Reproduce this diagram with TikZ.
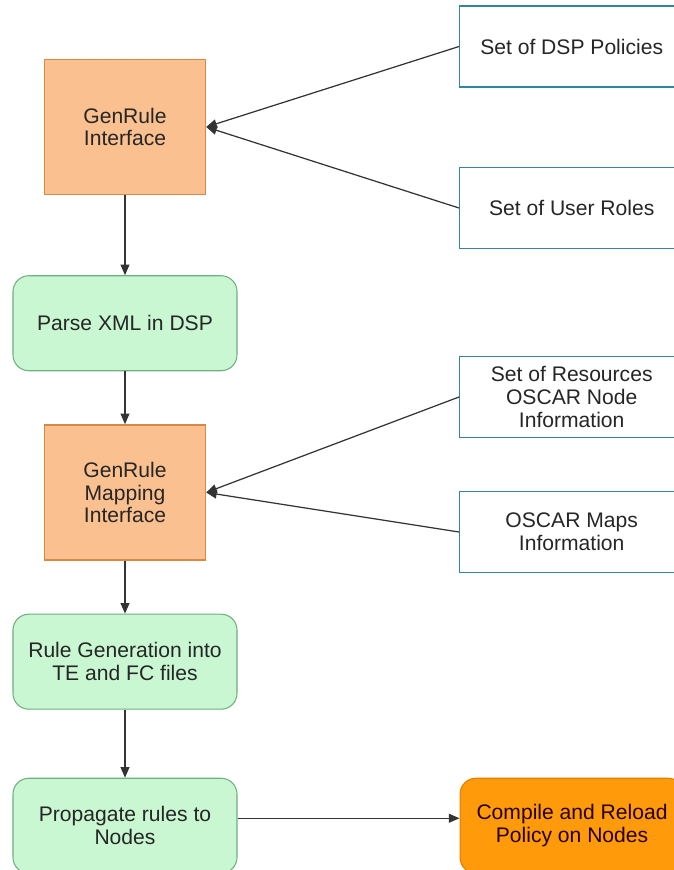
\documentclass[tikz,border=0pt]{standalone}
\usepackage{fontspec}
\setmainfont{Liberation Sans}
\usepackage{xcolor}
\usepackage{tikz}
\usetikzlibrary{shapes.geometric, arrows.meta, positioning, calc}
\definecolor{genorange}{HTML}{FAC08F}
\definecolor{genorangeline}{HTML}{D98847}
\definecolor{stepgreen}{HTML}{C9F7D2}
\definecolor{stepgreenline}{HTML}{6FAF80}
\definecolor{infoteal}{HTML}{31859C}
\definecolor{hotorange}{HTML}{FF9A0A}
\definecolor{hotorangeline}{HTML}{E07F00}
\definecolor{linegray}{HTML}{333333}

\begin{document}
\begin{tikzpicture}[
  node distance=1.06cm and 4.44cm,
  genbox/.style={rectangle, draw=genorangeline, fill=genorange, line width=0.8pt, minimum width=3.22cm, minimum height=2.7cm, align=center, font=\fontsize{12}{13}\selectfont, text=black!85},
  stepbox/.style={rectangle, draw=stepgreenline, fill=stepgreen, line width=0.6pt, rounded corners=9pt, minimum width=4.48cm, minimum height=1.9cm, align=center, font=\fontsize{12}{13}\selectfont, text=black!85},
  infobox/.style={rectangle, draw=infoteal, fill=white, line width=0.8pt, minimum width=4.48cm, minimum height=1.62cm, align=center, anchor=west, font=\fontsize{12}{13}\selectfont, text=black!85},
  hotbox/.style={rectangle, draw=hotorangeline, fill=hotorange, line width=0.6pt, rounded corners=9pt, minimum width=4.48cm, minimum height=1.9cm, align=center, font=\fontsize{12}{13}\selectfont, text=black!75!red!60!black},
  arr/.style={-{Triangle[length=6pt, width=5pt]}, line width=0.7pt, color=linegray},
]
\useasboundingbox (0,0) rectangle (13.48,-17.4);

% Main column
\node[genbox] (genrule) at (2.5,-2.54) {GenRule\\Interface};
\node[stepbox, below=1.6cm of genrule] (parse) {Parse XML in DSP};
\node[genbox, below=of parse] (mapping) {GenRule\\Mapping\\Interface};
\node[stepbox, below=of mapping] (rulegen) {Rule Generation into\\TE and FC files};
\node[stepbox, below=1.36cm of rulegen] (propagate) {Propagate rules to\\Nodes};
\node[hotbox, right=of propagate] (compile) {Compile and Reload\\Policy on Nodes};

% Inputs
\node[infobox] (policies) at (9.18,-0.93) {Set of DSP Policies};
\node[infobox] (roles) at (9.18,-4.16) {Set of User Roles};
\node[infobox] (resources) at (9.18,-7.94) {Set of Resources\\OSCAR Node\\Information};
\node[infobox] (maps) at (9.18,-10.64) {OSCAR Maps\\Information};

% Arrows
\draw[arr] (policies.west) -- (genrule.east);
\draw[arr] (roles.west) -- (genrule.east);
\draw[arr] (genrule) -- (parse);
\draw[arr] (parse) -- (mapping);
\draw[arr] (resources.west) -- (mapping.east);
\draw[arr] (maps.west) -- (mapping.east);
\draw[arr] (mapping) -- (rulegen);
\draw[arr] (rulegen) -- (propagate);
\draw[arr] ([yshift=1.5mm]propagate.east) -- ([yshift=1.5mm]compile.west);

\end{tikzpicture}
\end{document}
